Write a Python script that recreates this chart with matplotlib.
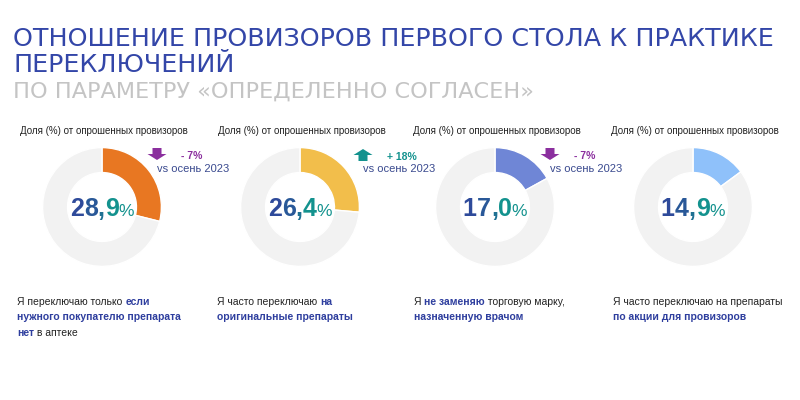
import matplotlib
matplotlib.use('Agg')
import matplotlib.pyplot as plt
import matplotlib.patches as mpatches
import matplotlib.colors as mcolors
import numpy as np

# data
shares = [28.9, 26.4, 17.0, 14.9]
share_labels = ['28,9', '26,4', '17,0', '14,9']
wedge_colors = ['#E87722', '#F2BE4B', '#6F86D6', '#8FC1FA']
changes = ['- 7%', '+ 18%', '- 7%', None]
change_dirs = ['down', 'up', 'down', None]
header = 'Доля (%) от опрошенных провизоров'
captions = [
    [[('Я переключаю только ', 0), ('если', 1)],
     [('нужного покупателю препарата', 1)],
     [('нет', 1), (' в аптеке', 0)]],
    [[('Я часто переключаю ', 0), ('на', 1)],
     [('оригинальные препараты', 1)]],
    [[('Я ', 0), ('не заменяю', 1), (' торговую марку,', 0)],
     [('назначенную врачом', 1)]],
    [[('Я часто переключаю на препараты', 0)],
     [('по акции для провизоров', 1)]],
]

DARK = '#2E4A9A'
TEAL = '#13928E'
PURPLE = '#8B2F9E'
TITLE_BLUE = '#3346A8'
FONT = ['Liberation Sans', 'DejaVu Sans']

fig = plt.figure(figsize=(8, 4), dpi=100)

centers = [102, 300, 495, 693]
cy = 207
R = 60

# donuts first, text layer on top
for i, cx in enumerate(centers):
    dax = fig.add_axes([(cx - R) / 800, (400 - cy - R) / 400, 2 * R / 800, 2 * R / 400])
    dax.pie([shares[i], 100 - shares[i]], colors=[wedge_colors[i], '#F2F2F2'],
            startangle=90, counterclock=False,
            wedgeprops=dict(width=0.42, edgecolor='white', linewidth=1))
    dax.set_xlim(-1.01, 1.01)
    dax.set_ylim(-1.01, 1.01)
    dax.set_aspect('equal')

ax = fig.add_axes([0, 0, 1, 1])
ax.set_xlim(0, 800)
ax.set_ylim(400, 0)
ax.axis('off')
ax.patch.set_alpha(0)
renderer = fig.canvas.get_renderer()


def runs_text(x, y, runs, ha='left'):
    texts = []
    for s, props in runs:
        texts.append(ax.text(0, y, s, va='baseline', ha='left', **props))
    widths = [t.get_window_extent(renderer).width for t in texts]
    x0 = x - sum(widths) / 2 if ha == 'center' else x
    for t, w in zip(texts, widths):
        t.set_x(x0)
        x0 += w


# titles
ax.text(13, 45.5, 'ОТНОШЕНИЕ ПРОВИЗОРОВ ПЕРВОГО СТОЛА К ПРАКТИКЕ', fontsize=18.3,
        color=TITLE_BLUE, family='DejaVu Sans', va='baseline')
ax.text(13, 72.5, 'ПЕРЕКЛЮЧЕНИЙ', fontsize=18.3, color=TITLE_BLUE, family='DejaVu Sans',
        va='baseline')
ax.text(13, 98, 'ПО ПАРАМЕТРУ «ОПРЕДЕЛЕННО СОГЛАСЕН»', fontsize=16.1, color='#C4C4C4',
        family='DejaVu Sans', va='baseline')

c0 = np.array(mcolors.to_rgb(DARK))
c1 = np.array(mcolors.to_rgb(TEAL))

for i, cx in enumerate(centers):
    ax.text(cx + 2, 131, header, fontsize=7, color='#222222', family=FONT,
            ha='center', va='center')

    # big number with blue-to-teal gradient
    lab = share_labels[i]
    n = len(lab)
    runs = []
    for k, ch in enumerate(lab):
        col = c0 + (c1 - c0) * (k / (n - 1)) ** 1.5
        runs.append((ch, dict(fontsize=18, fontweight='bold', color=col, family=FONT)))
    runs.append(('%', dict(fontsize=12.5, color=TEAL, family=FONT)))
    runs_text(cx, 216, runs, ha='center')

    if changes[i]:
        ax_x = cx + 55 if change_dirs[i] == 'down' else cx + 63
        if change_dirs[i] == 'down':
            arr = mpatches.FancyArrow(ax_x, 148, 0, 12, width=9, head_width=19, head_length=6,
                                      length_includes_head=True, color=PURPLE, lw=0)
            ccol = PURPLE
            ty = 156
        else:
            arr = mpatches.FancyArrow(ax_x, 161, 0, -12, width=9, head_width=19, head_length=6,
                                      length_includes_head=True, color=TEAL, lw=0)
            ccol = TEAL
            ty = 157
        ax.add_patch(arr)
        ax.text(ax_x + 24, ty, changes[i], fontsize=7.5, fontweight='bold', color=ccol,
                family=FONT, va='center')
        ax.text(ax_x, 169, 'vs осень 2023', fontsize=8, color='#3A4A8F', family=FONT,
                va='center')

# captions under the donuts
cap_x = [17, 217, 414, 613]
for i, lines in enumerate(captions):
    for j, line in enumerate(lines):
        runs = []
        for s, b in line:
            if b:
                runs.append((s, dict(fontsize=7.5, fontweight='bold', color='#2E3E9E', family=FONT)))
            else:
                runs.append((s, dict(fontsize=7.5, color='#222222', family=FONT)))
        runs_text(cap_x[i], 305 + j * 15.5, runs)

fig.savefig('out.png', dpi=100)
